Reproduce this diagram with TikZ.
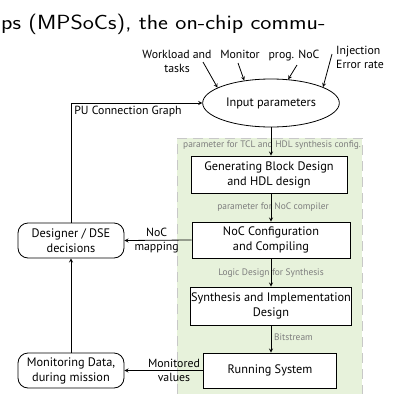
\documentclass[tikz,border=0pt]{standalone}
\usepackage{fontspec}
\newfontfamily\diagfont{PT Sans}
\usetikzlibrary{positioning,shapes.geometric}

\definecolor{flowgreen}{RGB}{231,242,219}
\definecolor{flowdash}{RGB}{200,200,200}
\definecolor{flowgray}{RGB}{125,125,125}

\tikzset{
  block/.style={draw, fill=white, line width=0.9pt, align=center, inner xsep=1pt, inner ysep=2pt},
  rounded/.style={draw, fill=white, line width=0.8pt, rounded corners=10pt, align=center, inner sep=2pt},
  sublabel/.style={text=flowgray, font=\diagfont\fontsize{9.4}{10}\selectfont, inner sep=1pt},
  edgelabel/.style={font=\diagfont\fontsize{11.8}{14}\selectfont},
  flow/.style={->, line width=0.8pt}
}

\begin{document}
\begin{tikzpicture}[x=1pt, y=-1pt, >=stealth, font=\diagfont\fontsize{12.3}{15}\selectfont]
        \useasboundingbox (0,0) rectangle (397,394);

        % Heading line of the page
        \node[anchor=base west, inner sep=0, font=\sffamily\fontsize{20.5}{24}\selectfont] (heading) at (1,29) {\scalebox{1.15}[1]{ps (MPSoCs), the on-chip commu-}};

        % FPGA tool flow area
        \fill[flowgreen] (177,138) rectangle (362,394);
        \draw[flowdash, dash pattern=on 10pt off 6pt, line width=0.8pt] (177,394) -- (177,138) -- (362,138) -- (362,394);

        % Input parameters
        \node[ellipse, draw, fill=white, line width=0.8pt, minimum width=136, minimum height=48] (input) at (271,103) {Input parameters};
        \node[edgelabel, align=center] (workload) at (177,61) {Workload and\\tasks};
        \node[edgelabel] (monitor) at (240,54) {Monitor};
        \node[edgelabel] (prognoc) at (294,56) {prog. NoC};
        \node[edgelabel, align=left] (injection) at (360,57) {Injection\\Error rate};
        \coordinate (workloadend) at (203,62);
        \coordinate (monitorend) at (238,63);
        \coordinate (prognocend) at (297,65);
        \coordinate (injectionend) at (332,54);
        \draw[flow] (workloadend) -- (input.164);
        \draw[flow] (monitorend) -- (input.140);
        \draw[flow] (prognocend) -- (input.54);
        \draw[flow] (injectionend) -- (input.17);

        % Tool flow blocks
        \node[block, minimum width=156, minimum height=37] (gen) at (269,174.5) {Generating Block Design\\and HDL design};
        \node[block, minimum width=158, minimum height=36] (noc) at (271,240) {NoC Configuration\\and Compiling};
        \node[block, minimum width=158, minimum height=38] (synth) at (271,306) {Synthesis and Implementation\\Design};
        \node[block, minimum width=133, minimum height=35] (run) at (270,370.5) {Running System};

        \node[sublabel, anchor=west] (tclcfg) at (182,145) {parameter for TCL and HDL synthesis config.};
        \node[sublabel] (noccfg) at (273,207) {parameter for NoC compiler};
        \node[sublabel] (logic) at (271,273) {Logic Design for Synthesis};
        \node[sublabel, anchor=west] (bits) at (273,337) {Bitstream};

        \draw[flow] (input.south) -- (input.south |- gen.north);
        \draw[flow] (input.south |- gen.south) -- (input.south |- noc.north);
        \draw[flow] (input.south |- noc.south) -- (input.south |- synth.north);
        \draw[flow] (input.south |- synth.south) -- (input.south |- run.north);

        % Designer side
        \node[rounded, minimum width=106, minimum height=35] (dse) at (71,240.5) {Designer / DSE\\decisions};
        \node[rounded, minimum width=106, minimum height=35] (mon) at (71,370.5) {Monitoring Data,\\during mission};

        \draw[flow] (dse.north) |- node[edgelabel, pos=0.5, anchor=north west, inner sep=3pt] (pugraph) {PU Connection Graph} (input.west);
        \draw[flow] (noc.west) -- node[edgelabel, align=center, pos=0.52] (nocmap) {NoC\\mapping} (dse.east);
        \draw[flow] (run.west) -- node[edgelabel, align=center, pos=0.37] (monval) {Monitored\\values} (mon.east);
        \draw[flow] (mon.north) -- (dse.south);
    \end{tikzpicture}
\end{document}
